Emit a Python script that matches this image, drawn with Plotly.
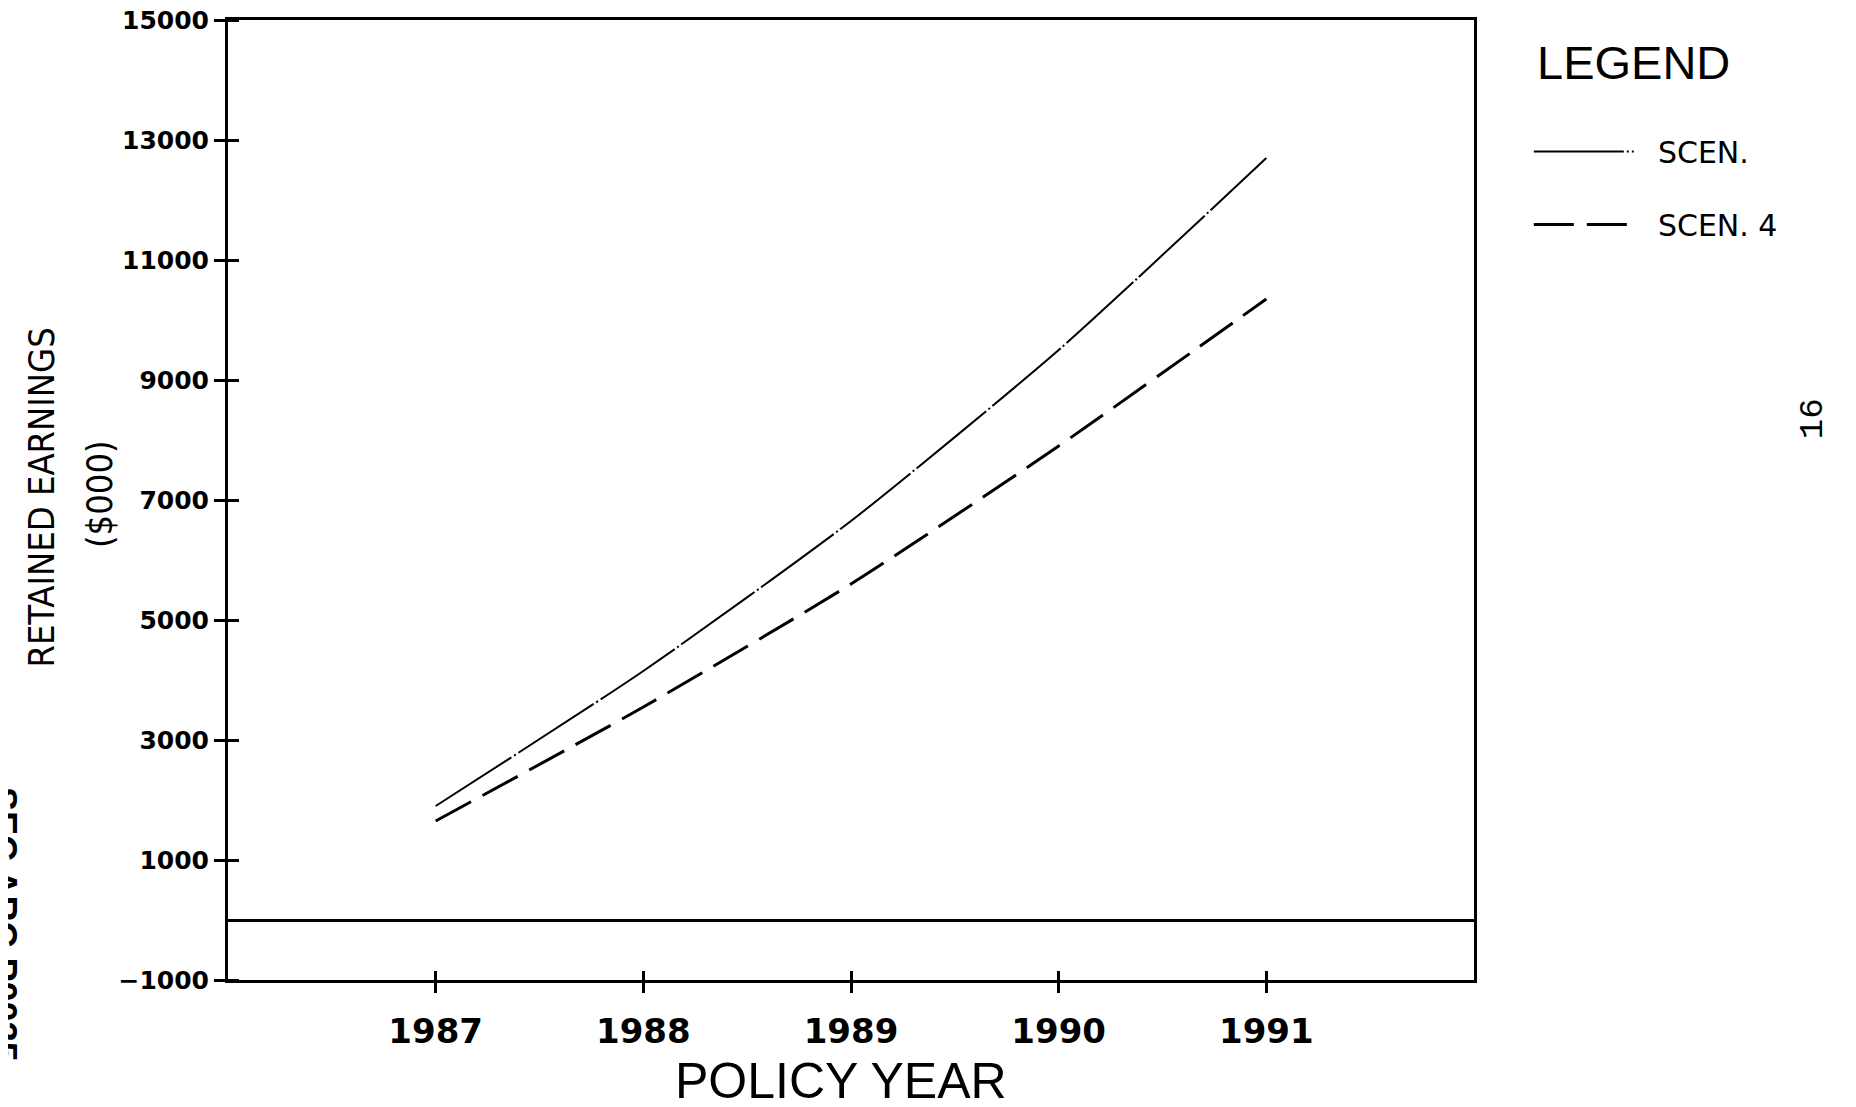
import plotly.graph_objects as go

# ---- data ----
years = [1987, 1988, 1989, 1990, 1991]
scen = [1900, 4150, 6650, 9500, 12700]
scen4 = [1650, 3550, 5600, 7900, 10350]
series_names = ["SCEN.", "SCEN. 4"]

x_tick_vals = [1987, 1988, 1989, 1990, 1991]
x_tick_text = ["1987", "1988", "1989", "1990", "1991"]
y_tick_vals = [-1000, 1000, 3000, 5000, 7000, 9000, 11000, 13000, 15000]
y_tick_text = ["\u22121000", "1000", "3000", "5000", "7000", "9000", "11000", "13000", "15000"]

x_range = [1986, 1992]
y_range = [-1000, 15000]

NB = "\u00a0\u00a0"

fig = go.Figure()

fig.add_trace(go.Scatter(
    x=years, y=scen, name=NB + series_names[0], mode="lines",
    line=dict(color="black", width=2, dash="90px,3px,2px,3px", shape="spline", smoothing=0.6),
    legendgroup="a",
))
fig.add_trace(go.Scatter(
    x=years, y=scen4, name=NB + series_names[1], mode="lines",
    line=dict(color="black", width=3, dash="40px,13px", shape="spline", smoothing=0.6),
    legendgroup="b",
))
# invisible traces that carry the overlay axes (tick marks crossing the axes)
fig.add_trace(go.Scatter(
    x=years, y=scen, xaxis="x", yaxis="y2", mode="lines",
    line=dict(width=0), opacity=0, showlegend=False, hoverinfo="skip",
))
fig.add_trace(go.Scatter(
    x=years, y=scen, xaxis="x2", yaxis="y", mode="lines",
    line=dict(width=0), opacity=0, showlegend=False, hoverinfo="skip",
))

tick_font_y = dict(family="DejaVu Sans", size=25, color="black", weight="bold")
tick_font_x = dict(family="DejaVu Sans", size=34, color="black", weight="bold")

PLOT_W = 1246  # plot-area width in px

# page body has an 8px margin: figure is shifted by (8, 8)
fig.update_layout(
    width=1848, height=1099,
    margin=dict(l=220, r=382, t=12, b=127, autoexpand=False),
    paper_bgcolor="white", plot_bgcolor="white",
    showlegend=True,
    xaxis=dict(
        range=x_range, tickvals=x_tick_vals, ticktext=x_tick_text,
        ticks="outside", ticklen=10, tickwidth=3, tickcolor="black",
        showline=True, linewidth=3, linecolor="black", mirror=True,
        showgrid=False, zeroline=False, tickfont=tick_font_x,
        ticklabelstandoff=9,
    ),
    yaxis=dict(
        range=y_range, tickvals=y_tick_vals, ticktext=y_tick_text,
        ticks="outside", ticklen=11, tickwidth=3, tickcolor="black",
        showline=True, linewidth=3, linecolor="black", mirror=True,
        showgrid=False, zeroline=True, zerolinewidth=3, zerolinecolor="black",
        tickfont=tick_font_y, ticklabelstandoff=0, ticklabeloverflow="allow",
    ),
    xaxis2=dict(
        overlaying="x", anchor="y", side="bottom", range=x_range, tickvals=x_tick_vals,
        ticks="inside", ticklen=9, tickwidth=3, tickcolor="black",
        showticklabels=False, showline=False, showgrid=False, zeroline=False,
    ),
    yaxis2=dict(
        overlaying="y", anchor="free", position=11 / PLOT_W, side="left",
        range=y_range, tickvals=y_tick_vals,
        ticks="outside", ticklen=11, tickwidth=3, tickcolor="black",
        showticklabels=False, showline=False, showgrid=False, zeroline=False,
    ),
    legend=dict(
        x=1.044, y=0.890, xanchor="left", yanchor="top",
        font=dict(family="DejaVu Sans", size=30, color="black"),
        itemwidth=100, traceorder="grouped", tracegroupgap=31,
        bgcolor="rgba(0,0,0,0)",
    ),
    annotations=[
        dict(text="LEGEND", xref="paper", yref="paper", x=1.049, y=0.956,
             xanchor="left", yanchor="middle", showarrow=False,
             font=dict(family="Liberation Sans", size=47, color="black")),
        dict(text="POLICY YEAR", xref="paper", yref="paper", x=0.492, y=-0.105,
             xanchor="center", yanchor="middle", showarrow=False,
             font=dict(family="Liberation Sans", size=50, color="black")),
        dict(text="RETAINED EARNINGS", xref="paper", yref="paper",
             x=-0.1497, y=0.503, xanchor="center", yanchor="middle", textangle=-90,
             showarrow=False,
             font=dict(family="Liberation Sans Narrow, DejaVu Sans Condensed, Roboto", size=36, color="black")),
        dict(text="($000)", xref="paper", yref="paper",
             x=-0.1037, y=0.506, xanchor="center", yanchor="middle", textangle=-90,
             showarrow=False,
             font=dict(family="Liberation Sans Narrow, DejaVu Sans Condensed, Roboto", size=36, color="black")),
        dict(text="16", xref="paper", yref="paper", x=1.2716, y=0.5846,
             xanchor="center", yanchor="middle", textangle=-90, showarrow=False,
             font=dict(family="Liberation Mono", size=34, color="black")),
        dict(text="SEC ARC P0035", xref="paper", yref="paper", x=-0.180, y=0.203,
             xanchor="center", yanchor="top", textangle=90, showarrow=False,
             font=dict(family="Liberation Sans", size=36, color="black", weight="bold")),
    ],
)

fig.write_html("out.html")
